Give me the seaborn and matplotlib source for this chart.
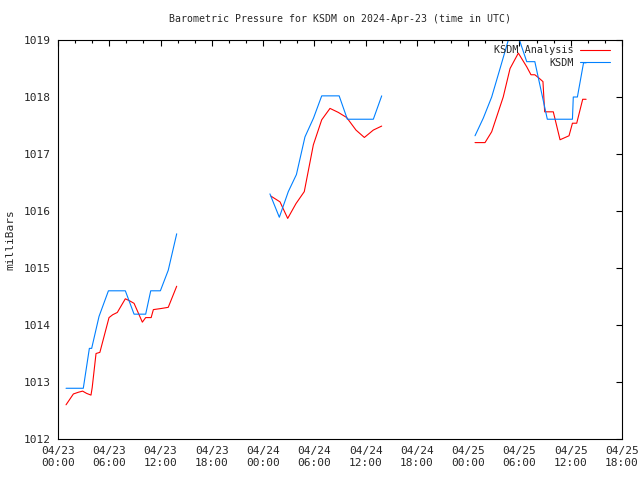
import pandas as pd
import matplotlib
matplotlib.use('Agg')
import matplotlib.pyplot as plt
import matplotlib.dates as mdates
import seaborn as sns

# hours after 2024-04-23 00:00 UTC
obs_hours_1 = [0.94, 2.96, 3.67, 3.94, 4.8, 5.9, 7.88, 8.9, 10.26, 10.85, 11.98, 12.9, 13.89]
obs_vals_1 = [1012.89, 1012.89, 1013.59, 1013.59, 1014.15, 1014.6, 1014.6, 1014.19, 1014.19, 1014.6, 1014.6, 1014.96, 1015.6]
obs_hours_2 = [24.8, 25.9, 26.95, 27.9, 28.9, 29.9, 30.86, 32.9, 33.86, 36.9, 37.88]
obs_vals_2 = [1016.3, 1015.89, 1016.34, 1016.64, 1017.3, 1017.63, 1018.02, 1018.02, 1017.61, 1017.61, 1018.02]
obs_hours_3 = [48.8, 49.77, 50.75, 51.73, 52.7, 53.3, 54.0, 54.85, 55.8, 57.26, 60.2, 60.3, 60.78, 61.5, 61.8]
obs_vals_3 = [1017.32, 1017.63, 1018.0, 1018.5, 1019.0, 1019.3, 1019.0, 1018.62, 1018.62, 1017.61, 1017.61, 1018.0, 1018.0, 1018.6, 1018.6]

ana_hours_1 = [0.94, 1.8, 2.38, 2.88, 3.35, 3.86, 4.0, 4.45, 4.9, 5.97, 6.4, 6.94, 7.88, 8.43, 8.9, 9.87, 10.26, 10.9, 11.16, 12.1, 12.9, 13.89]
ana_vals_1 = [1012.6, 1012.79, 1012.82, 1012.84, 1012.8, 1012.77, 1012.9, 1013.5, 1013.52, 1014.13, 1014.18, 1014.22, 1014.46, 1014.42, 1014.38, 1014.05, 1014.13, 1014.13, 1014.27, 1014.29, 1014.31, 1014.68]
ana_hours_2 = [24.93, 25.98, 26.88, 27.85, 28.82, 29.88, 30.86, 31.83, 32.8, 33.78, 34.87, 35.85, 36.9, 37.88]
ana_vals_2 = [1016.26, 1016.16, 1015.87, 1016.13, 1016.34, 1017.16, 1017.6, 1017.8, 1017.73, 1017.64, 1017.42, 1017.29, 1017.42, 1017.49]
ana_hours_3 = [48.8, 49.97, 50.75, 52.1, 52.9, 53.87, 54.85, 55.35, 55.8, 56.3, 56.75, 56.95, 57.96, 58.75, 59.8, 60.2, 60.7, 61.4, 61.8]
ana_vals_3 = [1017.2, 1017.2, 1017.39, 1018.0, 1018.5, 1018.77, 1018.53, 1018.39, 1018.39, 1018.33, 1018.27, 1017.74, 1017.74, 1017.25, 1017.32, 1017.54, 1017.54, 1017.96, 1017.96]

start = pd.Timestamp('2024-04-23 00:00')

rows = []
for name, parts in [('KSDM Analysis', [(ana_hours_1, ana_vals_1), (ana_hours_2, ana_vals_2), (ana_hours_3, ana_vals_3)]),
                    ('KSDM', [(obs_hours_1, obs_vals_1), (obs_hours_2, obs_vals_2), (obs_hours_3, obs_vals_3)])]:
    for seg, (hrs, vals) in enumerate(parts):
        for h, v in zip(hrs, vals):
            rows.append({'time': start + pd.Timedelta(hours=h), 'mb': v, 'series': name, 'seg': seg})
df = pd.DataFrame(rows)

sns.set_style('white')
plt.rcParams['font.family'] = ['DejaVu Sans Mono']

fig = plt.figure(figsize=(6.4, 4.8), dpi=100)
ax = fig.add_axes([58 / 640, 41 / 480, 564 / 640, 399 / 480])

sns.lineplot(data=df, x='time', y='mb', hue='series', units='seg', estimator=None,
             hue_order=['KSDM Analysis', 'KSDM'], palette={'KSDM Analysis': '#ff0000', 'KSDM': '#0080ff'},
             linewidth=0.8, ax=ax, legend=False)

ax.plot([], [], color='#ff0000', lw=0.8, label='KSDM Analysis')
ax.plot([], [], color='#0080ff', lw=0.8, label='KSDM')
ax.legend(loc='upper right', bbox_to_anchor=(552 / 564, 0.987), frameon=False, markerfirst=False,
          fontsize=7.3, handlelength=3.0, borderaxespad=0, borderpad=0, labelspacing=0.25,
          handletextpad=0.6)

ax.set_xlim(start, start + pd.Timedelta(hours=66))
ax.set_ylim(1012, 1019)
ax.set_yticks(range(1012, 1020))
ax.xaxis.set_major_locator(mdates.HourLocator(byhour=[0, 6, 12, 18]))
ax.xaxis.set_minor_locator(mdates.HourLocator(interval=2))
ax.xaxis.set_major_formatter(mdates.DateFormatter('%m/%d\n%H:%M'))
ax.tick_params(which='both', direction='in', top=True, right=True, labelsize=8, color='black')
ax.tick_params(which='major', length=4, width=0.8, pad=5)
ax.tick_params(which='minor', length=2, width=0.8)
for s in ax.spines.values():
    s.set_color('black')
    s.set_linewidth(0.8)

ax.set_xlabel('')
ax.set_ylabel('milliBars', fontsize=8, labelpad=6)
ax.set_title('Barometric Pressure for KSDM on 2024-Apr-23 (time in UTC)', fontsize=7.1, pad=13)

fig.savefig('out.png', dpi=100)
